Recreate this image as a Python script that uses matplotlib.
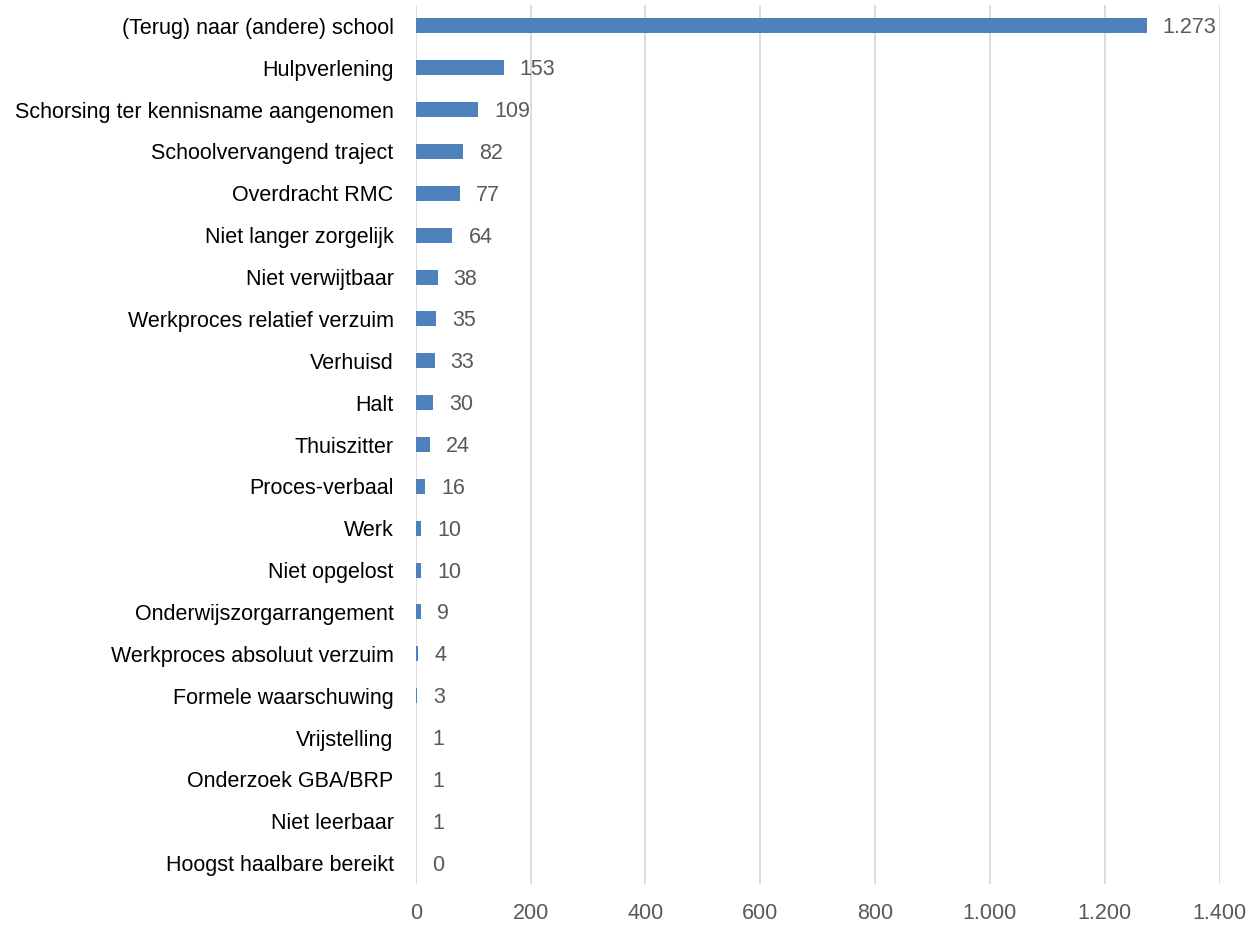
import matplotlib.pyplot as plt
from matplotlib.ticker import FuncFormatter

# Categories and counts, top to bottom as in the chart
CATEGORIES = [
    "(Terug) naar (andere) school",
    "Hulpverlening",
    "Schorsing ter kennisname aangenomen",
    "Schoolvervangend traject",
    "Overdracht RMC",
    "Niet langer zorgelijk",
    "Niet verwijtbaar",
    "Werkproces relatief verzuim",
    "Verhuisd",
    "Halt",
    "Thuiszitter",
    "Proces-verbaal",
    "Werk",
    "Niet opgelost",
    "Onderwijszorgarrangement",
    "Werkproces absoluut verzuim",
    "Formele waarschuwing",
    "Vrijstelling",
    "Onderzoek GBA/BRP",
    "Niet leerbaar",
    "Hoogst haalbare bereikt",
]
VALUES = [1273, 153, 109, 82, 77, 64, 38, 35, 33, 30, 24, 16, 10, 10, 9, 4, 3, 1, 1, 1, 0]
X_TICKS = [0, 200, 400, 600, 800, 1000, 1200, 1400]

BAR_COLOR = "#4F81BD"
GRID_COLOR = "#D9D9D9"
TEXT_GRAY = "#595959"
FONT_SIZE = 15.5


def dutch_number(v):
    """Format with a dot as thousands separator."""
    return f"{int(v):,}".replace(",", ".")


def main():
    plt.rcParams["font.family"] = ["Liberation Sans", "DejaVu Sans"]

    fig = plt.figure(figsize=(12.56, 9.25), dpi=100)
    ax = fig.add_axes([0.331, 0.0443, 0.640, 0.9503])

    ypos = list(range(len(CATEGORIES)))
    ax.barh(ypos, VALUES, height=0.36, color=BAR_COLOR, zorder=3)

    ax.set_ylim(len(CATEGORIES) - 0.5, -0.5)
    ax.set_xlim(0, 1400)
    ax.set_yticks(ypos)
    ax.set_yticklabels(CATEGORIES, fontsize=FONT_SIZE, color="#000000")
    ax.set_xticks(X_TICKS)
    ax.xaxis.set_major_formatter(FuncFormatter(lambda v, p: dutch_number(v)))
    ax.tick_params(axis="x", labelsize=FONT_SIZE, colors=TEXT_GRAY, length=0, pad=14)
    ax.tick_params(axis="y", length=0, pad=16)

    ax.grid(axis="x", color=GRID_COLOR, linewidth=1.3, zorder=0)
    for s in ax.spines.values():
        s.set_visible(False)

    # Value labels next to each bar
    for y, v in zip(ypos, VALUES):
        ax.annotate(dutch_number(v), xy=(v, y), xytext=(16, -2),
                    textcoords="offset pixels",
                    va="center", ha="left", fontsize=FONT_SIZE, color=TEXT_GRAY)

    fig.savefig("out.png", dpi=100)
    plt.close(fig)


if __name__ == "__main__":
    main()
